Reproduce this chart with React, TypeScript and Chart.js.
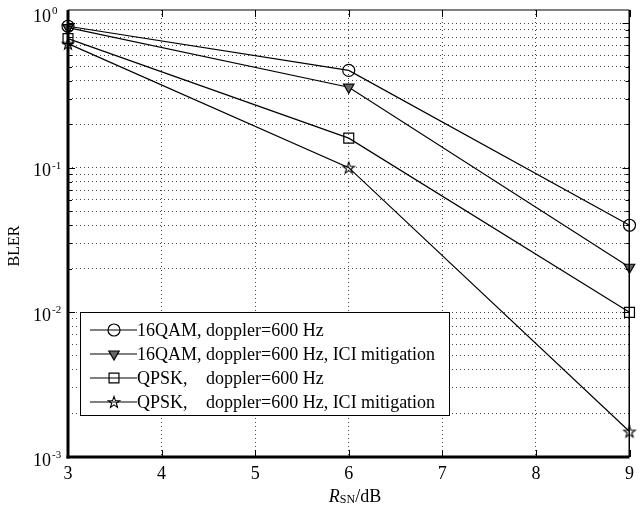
import React, { useEffect, useRef } from "react";
import { Chart, registerables } from "chart.js";

Chart.register(...registerables);

const xValues = [3, 6, 9];
const qam16 = [0.95, 0.47, 0.04];
const qam16Ici = [0.93, 0.36, 0.0205];
const qpsk = [0.78, 0.16, 0.01];
const qpskIci = [0.72, 0.1, 0.0015];
const seriesPrefixes = ["16QAM,", "16QAM,", "QPSK,", "QPSK,"];
const seriesSuffixes = ["doppler=600 Hz", "doppler=600 Hz, ICI mitigation", "doppler=600 Hz", "doppler=600 Hz, ICI mitigation"];
const xTicks = [3, 4, 5, 6, 7, 8, 9];
const yDecades = [0, -1, -2, -3];
const yTitle = "BLER";
const xTitleMain = "R";
const xTitleSub = "SN";
const xTitleRest = "/dB";

const SERIF = '"Liberation Serif", "DejaVu Serif", serif';

type Marker = { style: string; radius: number; rotation: number; fill: string };
const markers: Marker[] = [
  { style: "circle", radius: 6, rotation: 0, fill: "rgba(255,255,255,0)" },
  { style: "triangle", radius: 6, rotation: 180, fill: "#666" },
  { style: "rect", radius: 7, rotation: 0, fill: "rgba(255,255,255,0)" },
  { style: "pentagram", radius: 6, rotation: 0, fill: "rgba(255,255,255,0)" },
];

function pentagramPath(ctx: CanvasRenderingContext2D, x: number, y: number, r: number) {
  const inner = r * 0.4;
  for (let i = 0; i < 10; i++) {
    const ang = -Math.PI / 2 + (i * Math.PI) / 5;
    const rr = i % 2 === 0 ? r : inner;
    const px = x + Math.cos(ang) * rr;
    const py = y + Math.sin(ang) * rr;
    if (i === 0) ctx.moveTo(px, py);
    else ctx.lineTo(px, py);
  }
  ctx.closePath();
}

function makePentagramImage(r: number): HTMLCanvasElement {
  const c = document.createElement("canvas");
  const s = Math.ceil(r * 2 + 4);
  c.width = s;
  c.height = s;
  const g = c.getContext("2d")!;
  g.strokeStyle = "#000";
  g.lineWidth = 1.1;
  g.beginPath();
  pentagramPath(g, s / 2, s / 2 + 0.5, r);
  g.stroke();
  return c;
}

function drawMarker(ctx: CanvasRenderingContext2D, m: Marker, x: number, y: number) {
  ctx.save();
  ctx.strokeStyle = "#000";
  ctx.fillStyle = m.fill;
  ctx.lineWidth = 1.2;
  ctx.beginPath();
  const r = m.radius;
  if (m.style === "circle") {
    ctx.arc(x, y, r, 0, Math.PI * 2);
  } else if (m.style === "triangle") {
    const a = Math.PI / 2;
    for (let i = 0; i < 3; i++) {
      const ang = a + (i * 2 * Math.PI) / 3;
      const px = x + Math.cos(ang) * r;
      const py = y + Math.sin(ang) * r;
      if (i === 0) ctx.moveTo(px, py);
      else ctx.lineTo(px, py);
    }
    ctx.closePath();
  } else if (m.style === "rect") {
    const s = r * Math.SQRT1_2;
    ctx.rect(x - s, y - s, 2 * s, 2 * s);
  } else if (m.style === "pentagram") {
    ctx.lineWidth = 1.1;
    pentagramPath(ctx, x, y + 0.5, r);
  }
  ctx.fill();
  ctx.stroke();
  ctx.restore();
}

const decorPlugin = {
  id: "decor",
  afterDraw(chart: any) {
    const ctx: CanvasRenderingContext2D = chart.ctx;
    const { left, right, top, bottom } = chart.chartArea;
    const yScale = chart.scales.y;
    const xScale = chart.scales.x;
    ctx.save();

    ctx.strokeStyle = "#000";
    ctx.lineWidth = 1;
    ctx.beginPath();
    for (let e = 0; e >= -3; e--) {
      for (let k = 1; k <= 9; k++) {
        const v = k * Math.pow(10, e);
        if (e === -3 && k > 1) continue;
        const y = Math.round(yScale.getPixelForValue(v)) + 0.5;
        if (y < top || y > bottom) continue;
        const len = k === 1 ? 7 : 4;
        ctx.moveTo(left, y);
        ctx.lineTo(left + len, y);
        ctx.moveTo(right, y);
        ctx.lineTo(right - len, y);
      }
    }
    for (const t of xTicks) {
      const x = Math.round(xScale.getPixelForValue(t)) + 0.5;
      ctx.moveTo(x, bottom);
      ctx.lineTo(x, bottom - 7);
      ctx.moveTo(x, top);
      ctx.lineTo(x, top + 7);
    }
    ctx.stroke();

    ctx.fillStyle = "#000";
    ctx.fillRect(left - 1.5, top, 3, bottom - top + 1.5);
    ctx.fillRect(left - 1.5, bottom - 1.5, right - left + 1.5, 3);
    ctx.fillRect(left, top - 0.5, right - left, 1);
    ctx.fillRect(right - 1, top, 1.5, bottom - top);

    ctx.fillStyle = "#000";
    for (const e of yDecades) {
      const y = yScale.getPixelForValue(Math.pow(10, e));
      const ly = e === 0 ? top + 7 : y + 4;
      ctx.font = `18px ${SERIF}`;
      ctx.textAlign = "right";
      ctx.textBaseline = "middle";
      ctx.fillText("10", 51, ly);
      ctx.font = `11px ${SERIF}`;
      ctx.textAlign = "left";
      ctx.fillText(e === 0 ? "0" : "-" + String(-e), 52, ly - 6);
    }

    ctx.save();
    ctx.translate(15, 246);
    ctx.rotate(-Math.PI / 2);
    ctx.font = `16px ${SERIF}`;
    ctx.textAlign = "center";
    ctx.textBaseline = "middle";
    ctx.fillText(yTitle, 0, 0);
    ctx.restore();

    ctx.textBaseline = "alphabetic";
    ctx.textAlign = "left";
    ctx.font = `italic 18px ${SERIF}`;
    const wR = ctx.measureText(xTitleMain).width;
    ctx.font = `12px ${SERIF}`;
    const wS = ctx.measureText(xTitleSub).width;
    ctx.font = `18px ${SERIF}`;
    const wD = ctx.measureText(xTitleRest).width;
    const total = wR + wS + wD;
    let tx = 355 - total / 2;
    const base = 502;
    ctx.font = `italic 18px ${SERIF}`;
    ctx.fillText(xTitleMain, tx, base);
    tx += wR;
    ctx.font = `12px ${SERIF}`;
    ctx.fillText(xTitleSub, tx, base + 1);
    tx += wS;
    ctx.font = `18px ${SERIF}`;
    ctx.fillText(xTitleRest, tx, base);

    const bx = 80, by = 312, bw = 369, bh = 103;
    ctx.fillStyle = "#fff";
    ctx.fillRect(bx, by, bw, bh);
    ctx.strokeStyle = "#000";
    ctx.lineWidth = 1;
    ctx.strokeRect(bx + 0.5, by + 0.5, bw, bh);
    ctx.font = `18px ${SERIF}`;
    const prefW = ctx.measureText("16QAM, ").width;
    for (let i = 0; i < 4; i++) {
      const ry = 330 + i * 24;
      ctx.strokeStyle = "#000";
      ctx.lineWidth = 1.2;
      ctx.beginPath();
      ctx.moveTo(90, ry);
      ctx.lineTo(137, ry);
      ctx.stroke();
      drawMarker(ctx, markers[i], 114, ry);
      ctx.fillStyle = "#000";
      ctx.font = `18px ${SERIF}`;
      ctx.textAlign = "left";
      ctx.textBaseline = "middle";
      ctx.fillText(seriesPrefixes[i], 137, ry + 1);
      ctx.fillText(seriesSuffixes[i], 137 + prefW, ry + 1);
    }
    ctx.restore();
  },
};

function makeDataset(label: string, values: number[], m: Marker) {
  const style: any = m.style === "pentagram" ? makePentagramImage(m.radius) : m.style;
  return {
    label,
    data: xValues.map((x, i) => ({ x, y: values[i] })),
    borderColor: "#000",
    borderWidth: 1.2,
    backgroundColor: m.fill,
    pointStyle: style,
    pointRadius: m.radius,
    pointRotation: m.rotation,
    pointBorderColor: "#000",
    pointBackgroundColor: m.fill,
    pointBorderWidth: 1.2,
    tension: 0,
    fill: false,
    clip: false as any,
  };
}

export default function App() {
  const ref = useRef<HTMLCanvasElement>(null);
  useEffect(() => {
    if (!ref.current) return;
    const chart = new Chart(ref.current, {
      type: "line",
      data: {
        datasets: [
          makeDataset(seriesPrefixes[0] + " " + seriesSuffixes[0], qam16, markers[0]),
          makeDataset(seriesPrefixes[1] + " " + seriesSuffixes[1], qam16Ici, markers[1]),
          makeDataset(seriesPrefixes[2] + " " + seriesSuffixes[2], qpsk, markers[2]),
          makeDataset(seriesPrefixes[3] + " " + seriesSuffixes[3], qpskIci, markers[3]),
        ],
      },
      options: {
        animation: false,
        responsive: true,
        maintainAspectRatio: false,
        layout: { padding: { top: 10, right: 1, left: 0, bottom: 0 } },
        plugins: { legend: { display: false }, tooltip: { enabled: false } },
        scales: {
          x: {
            type: "linear",
            min: 3,
            max: 9,
            afterBuildTicks: (scale: any) => {
              scale.ticks = xTicks.map((v) => ({ value: v }));
            },
            afterFit: (scale: any) => {
              scale.height = 49;
            },
            ticks: {
              color: "#000",
              font: { family: SERIF, size: 18 },
              padding: 6,
              maxRotation: 0,
              autoSkip: false,
            },
            grid: { color: "#444", lineWidth: 1, drawTicks: false },
            border: { display: false, dash: [1, 3] },
          },
          y: {
            type: "logarithmic",
            min: 0.001,
            max: 1.23,
            afterFit: (scale: any) => {
              scale.width = 68;
            },
            afterBuildTicks: (scale: any) => {
              const t: any[] = [];
              for (let e = -3; e <= 0; e++) {
                for (let k = 1; k <= 9; k++) {
                  if (e === 0 && k > 1) break;
                  t.push({ value: k * Math.pow(10, e) });
                }
              }
              scale.ticks = t;
            },
            ticks: { display: false, autoSkip: false },
            grid: { color: "#444", lineWidth: 1, drawTicks: false },
            border: { display: false, dash: [1, 3] },
          },
        },
      },
      plugins: [decorPlugin],
    } as any);
    return () => chart.destroy();
  }, []);
  return (
    <div style={{ position: "absolute", left: 0, top: 0, width: 640, height: 506, background: "#fff" }}>
      <canvas ref={ref} />
    </div>
  );
}
